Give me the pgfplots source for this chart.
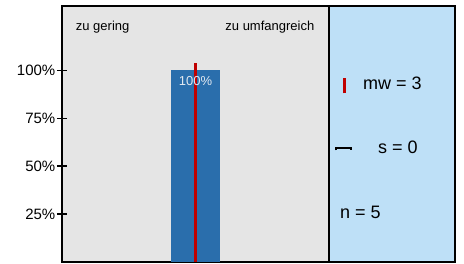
\documentclass[border=0pt]{standalone}
\usepackage{fontspec}
\setmainfont{Liberation Sans}
\usepackage{pgfplots}
\pgfplotsset{compat=1.18}
\definecolor{bggray}{RGB}{229,229,229}
\definecolor{barblue}{RGB}{42,110,172}
\definecolor{meanred}{RGB}{192,0,0}
\definecolor{panelblue}{RGB}{190,224,247}
\definecolor{lbl}{RGB}{225,232,240}
\begin{document}
\begin{tikzpicture}[x=1pt,y=1pt]
\path (0,0) rectangle (464,264);
% main axis
\begin{axis}[
  at={(62pt,2pt)}, anchor=south west,
  scale only axis, width=267pt, height=256pt,
  xmin=0.5, xmax=5.5, ymin=0, ymax=133.5,
  axis background/.style={fill=bggray},
  axis line style={black, line width=1.5pt},
  xtick=\empty,
  ytick={25,50,75,100},
  ytick pos=left,
  yticklabels={25\%,50\%,75\%,100\%},
  major tick length=10pt, tick align=center,
  tick style={black, line width=1.3pt},
  yticklabel style={font=\fontsize{15}{17}\selectfont, anchor=east, inner sep=0pt, xshift=-1.5pt},
  clip=false,
]
\addplot[ybar, bar width=49pt, fill=barblue, draw=none,
  nodes near coords={100\%},
  every node near coord/.append style={anchor=north, yshift=-3pt, text=lbl, font=\fontsize{13}{15}\selectfont}]
  coordinates {(3,100)};
\addplot[meanred, line width=2.6pt] coordinates {(3,0) (3,104)};
\end{axis}
% right panel
\begin{axis}[
  at={(329pt,2pt)}, anchor=south west,
  scale only axis, width=126pt, height=256pt,
  xmin=0, xmax=126, ymin=0, ymax=256,
  axis background/.style={fill=panelblue},
  axis line style={black, line width=1.5pt},
  xtick=\empty, ytick=\empty,
  clip=false,
]
\addplot[meanred, line width=2.3pt] coordinates {(15.5,168.7) (15.5,184.3)};
\addplot[black, line width=1.6pt] coordinates {(7.2,111.5) (7.2,113.7) (22.2,113.7) (22.2,111.5)};
\node[anchor=west, inner sep=0pt, font=\fontsize{18}{20}\selectfont] at (axis cs:34,179) {mw = 3};
\node[anchor=west, inner sep=0pt, font=\fontsize{18}{20}\selectfont] at (axis cs:49,115) {s = 0};
\node[anchor=west, inner sep=0pt, font=\fontsize{18}{20}\selectfont] at (axis cs:11,50) {n = 5};
\end{axis}
\node[anchor=west, inner sep=0pt, font=\fontsize{13}{15}\selectfont] at (75.7,237) {zu gering};
\node[anchor=east, inner sep=0pt, font=\fontsize{13}{15}\selectfont] at (314.5,237) {zu umfangreich};
\end{tikzpicture}
\end{document}
